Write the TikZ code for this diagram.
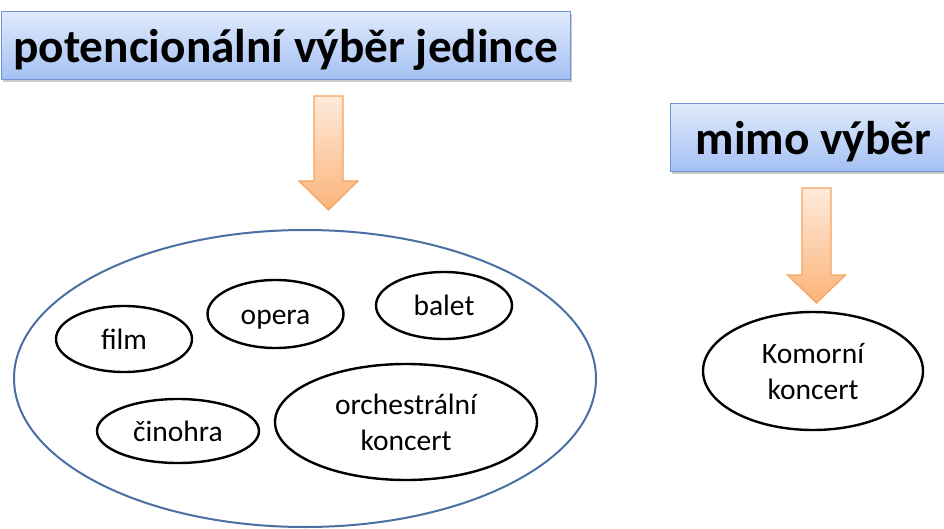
\documentclass[tikz,border=0pt]{standalone}
\usepackage{fontspec}
\setmainfont{Carlito}
\usetikzlibrary{shapes.geometric,shadows,calc}
\definecolor{boxtop}{HTML}{E0EAFC}
\definecolor{boxbot}{HTML}{A3C0F3}
\definecolor{boxline}{HTML}{6F96D2}
\definecolor{arrtop}{HTML}{FEEADB}
\definecolor{arrbot}{HTML}{FBB47A}
\definecolor{arrline}{HTML}{F6A35E}
\definecolor{bigline}{HTML}{4A6FA3}
\tikzset{
  titlebox/.style={rectangle, draw=boxline, line width=1pt, top color=boxtop, bottom color=boxbot,
    font=\bfseries\fontsize{47.3}{56}\selectfont, inner sep=0pt, text height=41pt, text depth=8pt,
    drop shadow={shadow xshift=1.5pt, shadow yshift=-2.5pt, opacity=0.35, fill=black!60}},
  item/.style={ellipse, draw=black, line width=2.4pt, inner sep=0pt, align=center,
    font=\fontsize{29.5}{36}\selectfont, text height=22pt, text depth=2pt},
  twoline/.style={text height=58pt, text depth=2pt},
  bigset/.style={ellipse, draw=bigline, line width=2pt, inner sep=0pt},
  blockarrow/.style={draw=arrline, line width=1.2pt, top color=arrtop, bottom color=arrbot, line join=miter}
}
\begin{document}
\begin{tikzpicture}[x=1pt,y=-1pt]
\useasboundingbox (0,0) rectangle (944,529);
\clip (0,0) rectangle (944,529);
% titles
\node[titlebox, minimum width=569pt, minimum height=68pt] (t1) at (285.5,46) {potencionální výběr jedince};
\node[titlebox, minimum width=287pt, minimum height=68pt] (t2) at (813.5,138) {mimo výběr};
% arrows
\coordinate (a1) at (328.5,96);
\coordinate (a2) at (816.5,188);
\shade[blockarrow] ($(a1)+(-14.5,0)$) -- ($(a1)+(14.5,0)$) -- ($(a1)+(14.5,85)$) -- ($(a1)+(29.5,85)$)
  -- ($(a1)+(0,114)$) -- ($(a1)+(-29.5,85)$) -- ($(a1)+(-14.5,85)$) -- cycle;
\shade[blockarrow] ($(a2)+(-14.5,0)$) -- ($(a2)+(14.5,0)$) -- ($(a2)+(14.5,87)$) -- ($(a2)+(29,87)$)
  -- ($(a2)+(0,115)$) -- ($(a2)+(-29,87)$) -- ($(a2)+(-14.5,87)$) -- cycle;
% big set
\node[bigset, minimum width=582pt, minimum height=297pt] (all) at (305,378.5) {};
% items
\node[item, minimum width=136pt, minimum height=66pt] (film) at (124,339) {film};
\node[item, minimum width=136pt, minimum height=68pt] (opera) at (275.5,314) {opera};
\node[item, minimum width=136pt, minimum height=67pt] (balet) at (444,305.5) {balet};
\node[item, minimum width=162pt, minimum height=64pt] (cinohra) at (178,431) {činohra};
\node[item, twoline, minimum width=262pt, minimum height=116pt] (orch) at (406,422) {orchestrální\\koncert};
\node[item, twoline, minimum width=220pt, minimum height=118pt] (komor) at (813,371) {Komorní\\koncert};
\end{tikzpicture}
\end{document}
